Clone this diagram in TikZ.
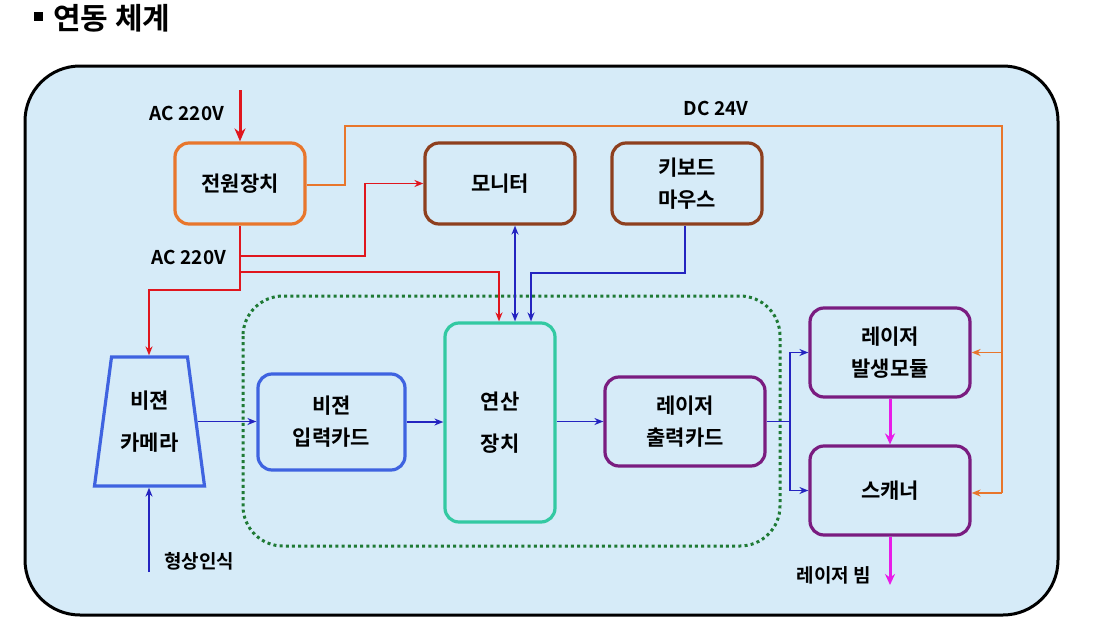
\documentclass[tikz,border=0pt]{standalone}
\usepackage{fontspec}
\newfontfamily\krb{Noto Sans CJK KR Bold}
\usetikzlibrary{arrows.meta,shapes.geometric}
\definecolor{bgblue}{HTML}{D6EBF8}
\definecolor{orng}{HTML}{E8762C}
\definecolor{brwn}{HTML}{8E3F1E}
\definecolor{teal2}{HTML}{33C9A2}
\definecolor{bluebox}{HTML}{3F63E0}
\definecolor{purp}{HTML}{7A1C80}
\definecolor{redl}{HTML}{E0161E}
\definecolor{bluel}{HTML}{2424C0}
\definecolor{mag}{HTML}{E81CE8}
\definecolor{grn}{HTML}{1F7A35}
\tikzset{
  box/.style={draw, line width=3.2pt, rounded corners=14pt, align=center, font=\krb\fontsize{21}{32}\selectfont, text=black},
  lbl/.style={font=\krb\fontsize{19}{22}\selectfont, text=black, inner sep=0pt},
  conn/.style={line width=1.5pt, -{Stealth[length=9pt,width=7pt]}},
  redc/.style={conn, draw=redl},
  bluec/.style={conn, draw=bluel},
  orc/.style={conn, draw=orng},
  magc/.style={draw=mag, line width=3pt, -{Stealth[length=11pt,width=10pt]}},
}
\begin{document}
\begin{tikzpicture}[x=1pt,y=-1pt]
\useasboundingbox (0,0) rectangle (1093,629);
% title
\fill[black] (34,12) rectangle (43,21);
\node[font=\krb\fontsize{30}{34}\selectfont, anchor=west, inner sep=0pt] (title) at (53,18) {연동 체계};
% outer frame
\draw[line width=3pt, fill=bgblue, rounded corners=55pt] (25,66) rectangle (1058,615);
% green dotted frame
\draw[grn, line width=3pt, dash pattern=on 3pt off 3.2pt, rounded corners=40pt] (243,296) rectangle (780,546);
% boxes
\node[box, draw=orng, minimum width=130pt, minimum height=81pt] (pw) at (240,183.5) {전원장치};
\node[box, draw=brwn, minimum width=150pt, minimum height=81pt] (mon) at (500,183.5) {모니터};
\node[box, draw=brwn, minimum width=150pt, minimum height=81pt] (kbd) at (687,183.5) {키보드\\마우스};
\node[draw=bluebox, line width=3.2pt, trapezium, trapezium stretches=true, trapezium left angle=78, trapezium right angle=78, minimum width=111pt, minimum height=129pt, align=center, font=\krb\fontsize{21}{42}\selectfont] (cam) at (149.5,421.5) {비젼\\카메라};
\node[box, draw=bluebox, minimum width=147pt, minimum height=96pt] (vin) at (331.5,422) {비젼\\입력카드};
\node[box, draw=teal2, font=\krb\fontsize{21}{42}\selectfont, minimum width=110pt, minimum height=199pt] (calc) at (500,422.5) {연산\\장치};
\node[box, draw=purp, minimum width=160pt, minimum height=89pt] (lout) at (685,421.5) {레이저\\출력카드};
\node[box, draw=purp, minimum width=160pt, minimum height=89pt] (lgen) at (890,352.5) {레이저\\발생모듈};
\node[box, draw=purp, minimum width=160pt, minimum height=89pt] (scan) at (890,490.5) {스캐너};
% labels
\node[lbl] (acin) at (187,113) {AC 220V};
\node[lbl] (acout) at (189,257) {AC 220V};
\node[lbl] (dc) at (716,108) {DC 24V};
\node[lbl] (beam) at (834,575) {레이저 빔};
\node[lbl] (shape) at (199,561) {형상인식};
\coordinate (acsrc) at (240,90);
\coordinate (beamend) at (890,585);
\coordinate (shsrc) at (149,572);
% power
\draw[redl, line width=3pt, -{Stealth[length=13pt,width=11pt]}] (acsrc) -- (pw.north);
\draw[orng, line width=1.5pt] (pw.east |- 0,185) -- (345,185) -- (345,126) -- (1002,126) -- (1002,493);
\draw[orc] (1002,352.5) -- (lgen.east);
\draw[orc] (1002,493) -- (scan.east |- 0,493);
\draw[redc] (pw.south) -- (240,290) -- (149,290) -- (cam.north -| 149,0);
\draw[redc] (240,256) -- (365,256) -- (365,183.5) -- (mon.west);
\draw[redc] (240,272) -- (499,272) -- (calc.north -| 499,0);
% monitor / keyboard
\draw[line width=1.5pt, draw=bluel, {Stealth[length=9pt,width=7pt]}-{Stealth[length=9pt,width=7pt]}] (mon.south -| 515,0) -- (calc.north -| 515,0);
\draw[bluec] (kbd.south -| 685,0) -- (685,273) -- (531,273) -- (calc.north -| 531,0);
% signal chain
\draw[bluec] (shsrc) -- (cam.south -| 149,0);
\draw[bluec] (cam.east) -- (vin.west |- cam.east);
\draw[bluec] (vin.east) -- (calc.west |- vin.east);
\draw[bluec] (calc.east |- lout.west) -- (lout.west);
\draw[bluel, line width=1.5pt] (lout.east) -- (790,421.5);
\draw[bluec] (790,421.5) |- (lgen.west);
\draw[bluec] (790,421.5) |- (scan.west);
% laser
\draw[magc] (lgen.south) -- (scan.north);
\draw[magc] (scan.south) -- (beamend);
\end{tikzpicture}
\end{document}
